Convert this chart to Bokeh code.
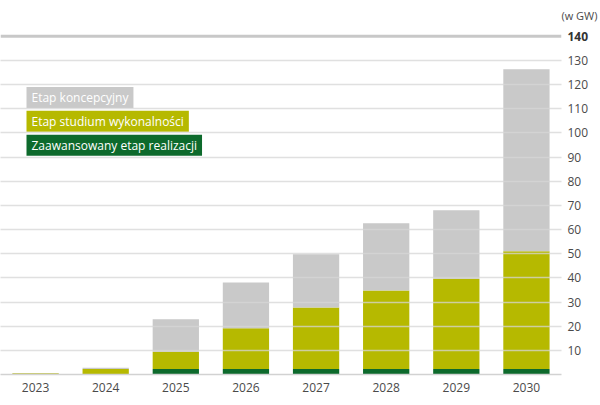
from bokeh.plotting import figure
from bokeh.models import ColumnDataSource, FactorRange, Range1d, FixedTicker, Span, Label
from bokeh.embed import file_html
from bokeh.resources import INLINE

# ---- data (GW) ----
years = ["2023", "2024", "2025", "2026", "2027", "2028", "2029", "2030"]
zaawansowany = [0.0, 0.0, 2.3, 2.3, 2.3, 2.3, 2.3, 2.3]          # dark green
studium = [0.5, 2.3, 7.1, 16.8, 25.4, 32.5, 37.3, 48.7]           # yellow
koncepcyjny = [0.1, 0.5, 13.5, 19.0, 22.1, 27.8, 28.4, 75.4]      # grey
y_ticks = [10, 20, 30, 40, 50, 60, 70, 80, 90, 100, 110, 120, 130]
top_tick = 140
unit_label = "(w GW)"
legend_labels = ["Etap koncepcyjny", "Etap studium wykonalności", "Zaawansowany etap realizacji"]

C_GREY = "#c9c9c9"
C_YELLOW = "#b6b900"
C_GREEN = "#0d6a2c"
TXT = "#4a4a4a"
FONT = "Open Sans"

source = ColumnDataSource(dict(year=years, zaaw=zaawansowany, stud=studium, konc=koncepcyjny))

p = figure(width=600, height=405, x_range=FactorRange(*years), y_range=Range1d(0, 142),
           y_axis_location="right", output_backend="svg", toolbar_location=None,
           min_border_left=0, min_border_right=39, min_border_top=31, min_border_bottom=31)
p.outline_line_color = None
p.background_fill_color = "white"
p.border_fill_color = "white"

p.vbar_stack(["zaaw", "stud", "konc"], x="year", width=0.66,
             color=[C_GREEN, C_YELLOW, C_GREY], line_color=None, source=source)

# grid
p.xgrid.grid_line_color = None
p.ygrid.ticker = FixedTicker(ticks=y_ticks)
p.ygrid.grid_line_color = "#d6d6d6"
p.ygrid.grid_line_alpha = 0.75
p.ygrid.grid_line_width = 1.5
p.ygrid.level = "overlay"

p.add_layout(Span(location=top_tick, dimension="width", line_color="#c8c8c8", line_width=3))

# y axis (right)
ya = p.yaxis[0]
ya.ticker = FixedTicker(ticks=y_ticks)
ya.axis_line_color = None
ya.major_tick_line_color = None
ya.minor_tick_line_color = None
ya.major_tick_out = 0
ya.major_tick_in = 0
ya.major_label_standoff = 6
ya.major_label_text_font = FONT
ya.major_label_text_font_size = "12px"
ya.major_label_text_color = TXT

# x axis
xa = p.xaxis[0]
xa.axis_line_color = "#d2d2d2"
xa.axis_line_width = 1.5
xa.major_tick_line_color = None
xa.minor_tick_line_color = None
xa.major_tick_out = 0
xa.major_tick_in = 0
xa.major_label_standoff = 8
xa.major_label_text_font = FONT
xa.major_label_text_font_size = "12px"
xa.major_label_text_color = TXT

# bold 140 label and unit (placed in a side panel so they are not clipped by the frame)
x_right = len(years) + 6 / 70.125
p.add_layout(Label(x=x_right, y=top_tick, text=str(top_tick), text_font=FONT, text_font_size="12px",
                   text_font_style="bold", text_color="#333333", text_baseline="middle"), "above")
p.add_layout(Label(x=len(years) + 36 / 70.125, y=148.5, text=unit_label, text_font=FONT,
                   text_font_size="11px", text_color=TXT, text_baseline="middle",
                   text_align="right"), "above")

# legend as coloured text boxes
for lab, col, yy in zip(legend_labels, [C_GREY, C_YELLOW, C_GREEN], [114.7, 104.8, 94.9]):
    p.add_layout(Label(x=26 / 70.125, y=yy, text=lab, text_font=FONT, text_font_size="12px",
                       text_color="white", text_baseline="middle",
                       background_fill_color=col, padding=(5, 2)))

open("out.html", "w").write(file_html(p, INLINE))
